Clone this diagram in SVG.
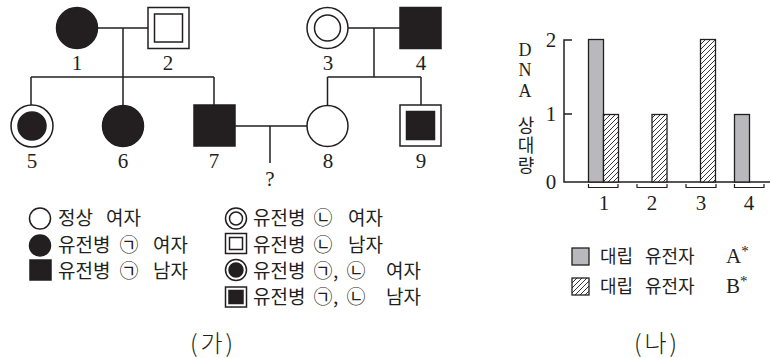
<svg xmlns="http://www.w3.org/2000/svg" width="771" height="358" viewBox="0 0 771 358">
<style>
.ln{stroke:#231f20;stroke-width:1.5;fill:none}
.op{stroke:#231f20;stroke-width:1.5;fill:#fff}
.fl{stroke:#231f20;stroke-width:1.5;fill:#231f20}
.dg{font-family:"Liberation Serif","DejaVu Serif",serif;font-size:21px;fill:#231f20;text-anchor:middle}
.kr{font-family:"Noto Sans CJK KR","Noto Sans",sans-serif;font-size:19px;fill:#231f20}
.sr{font-family:"Liberation Serif",serif}
.bar{stroke:#231f20;stroke-width:1.3}
</style>
<defs>
<pattern id="hatch" patternUnits="userSpaceOnUse" width="5" height="5">
<rect width="5" height="5" fill="#fff"/>
<path d="M-1,1 l2,-2 M0,5 l5,-5 M4,6 l2,-2" stroke="#231f20" stroke-width="0.9"/>
</pattern>
</defs>

<g id="connectors">
<path class="ln" d="M97.5,28 H148 M123,28 V105 M31,77 H214 M31,77 V105 M214,77 V105"/>
<path class="ln" d="M348,28 H400 M374,28 V77 M327.5,77 H421 M327.5,77 V105.5 M421,77 V105"/>
<path class="ln" d="M235,126 H307 M270,126 V163"/>
</g>

<g id="node1"><circle class="fl" cx="77" cy="28" r="20.5"/><text class="dg" x="77" y="70">1</text></g>
<g id="node2"><rect class="op" x="148" y="7.5" width="41" height="41"/><rect class="op" x="154.5" y="14" width="28" height="28"/><text class="dg" x="168" y="70">2</text></g>
<g id="node3"><circle class="op" cx="327.5" cy="28" r="20.5"/><circle class="op" cx="327.5" cy="28" r="13"/><text class="dg" x="328" y="70">3</text></g>
<g id="node4"><rect class="fl" x="400" y="7.5" width="41" height="41"/><text class="dg" x="421" y="70">4</text></g>
<g id="node5"><circle class="op" cx="32" cy="126" r="21"/><circle class="fl" cx="32" cy="126" r="14"/><text class="dg" x="32" y="168">5</text></g>
<g id="node6"><circle class="fl" cx="123" cy="126" r="20.5"/><text class="dg" x="123" y="168">6</text></g>
<g id="node7"><rect class="fl" x="194" y="105" width="41" height="41"/><text class="dg" x="214" y="168">7</text></g>
<g id="node8"><circle class="op" cx="327.5" cy="126" r="20.5"/><text class="dg" x="328" y="168">8</text></g>
<g id="node9"><rect class="op" x="400" y="105" width="41" height="41"/><rect class="fl" x="406.5" y="111.5" width="28" height="28"/><text class="dg" x="421" y="168">9</text></g>
<g id="child"><text class="dg" x="270" y="186">?</text></g>

<g id="legend-ga">
<circle class="op" cx="40" cy="218.5" r="10.5"/>
<text class="kr" y="225"><tspan x="58">정상</tspan><tspan x="106">여자</tspan></text>
<circle class="fl" cx="40" cy="245.5" r="10.5"/>
<text class="kr" y="251.5"><tspan x="58">유전병</tspan><tspan x="119.5">㉠</tspan><tspan x="153">여자</tspan></text>
<rect class="fl" x="30" y="260" width="21" height="20"/>
<text class="kr" y="277.5"><tspan x="58">유전병</tspan><tspan x="119.5">㉠</tspan><tspan x="153">남자</tspan></text>

<circle class="op" cx="236" cy="218.5" r="10.5"/><circle class="op" cx="236" cy="218.5" r="6.5"/>
<text class="kr" y="225"><tspan x="253">유전병</tspan><tspan x="313.5">㉡</tspan><tspan x="348">여자</tspan></text>
<rect class="op" x="225.5" y="233.5" width="21" height="20"/><rect class="op" x="229.5" y="237.5" width="13" height="12"/>
<text class="kr" y="251.5"><tspan x="253">유전병</tspan><tspan x="313.5">㉡</tspan><tspan x="348">남자</tspan></text>
<circle class="op" cx="236" cy="270" r="10.5"/><circle class="fl" cx="236" cy="270" r="7"/>
<text class="kr" y="277.5"><tspan x="253">유전병</tspan><tspan x="313.5">㉠</tspan><tspan x="333">,</tspan><tspan x="346.5">㉡</tspan><tspan x="386">여자</tspan></text>
<rect class="op" x="225.5" y="287" width="21" height="20"/><rect class="fl" x="229" y="290.5" width="14" height="13"/>
<text class="kr" y="303.5"><tspan x="253">유전병</tspan><tspan x="313.5">㉠</tspan><tspan x="333">,</tspan><tspan x="346.5">㉡</tspan><tspan x="386">남자</tspan></text>
<text class="kr" x="213" y="352" text-anchor="middle" style="font-size:24px;font-weight:300;letter-spacing:3px">(가)</text>
</g>

<g id="chart">
<path class="ln" d="M572,40 H564 V182 H770 M564,114 H572"/>
<text class="dg" x="551" y="47">2</text>
<text class="dg" x="551" y="121">1</text>
<text class="dg" x="551" y="189">0</text>
<text class="dg" style="font-size:18px" x="525" y="56">D</text>
<text class="dg" style="font-size:18px" x="525" y="76">N</text>
<text class="dg" style="font-size:18px" x="525" y="97">A</text>
<text class="kr" x="526" y="116" writing-mode="tb" style="font-size:18px;letter-spacing:2px">상대량</text>

<rect class="bar" x="588.5" y="39.5" width="15" height="142.5" fill="#b9b9bd"/>
<rect class="bar" x="603.5" y="114.5" width="15" height="67.5" fill="url(#hatch)"/>
<rect class="bar" x="652" y="114.5" width="15" height="67.5" fill="url(#hatch)"/>
<rect class="bar" x="700.5" y="39.5" width="15" height="142.5" fill="url(#hatch)"/>
<rect class="bar" x="734.5" y="114.5" width="15" height="67.5" fill="#b9b9bd"/>

<path class="ln" style="stroke-width:1.2" d="M588.5,184 V187.5 H618 V184 M637,184 V187.5 H667 V184 M686,184 V187.5 H716 V184 M734.5,184 V187.5 H764 V184"/>
<text class="dg" x="604" y="210">1</text>
<text class="dg" x="652" y="210">2</text>
<text class="dg" x="701" y="210">3</text>
<text class="dg" x="749" y="210">4</text>

<rect class="bar" x="572" y="248" width="17" height="17" fill="#b9b9bd"/>
<text class="kr" y="263" style="font-size:18px"><tspan x="600">대립</tspan><tspan x="645">유전자</tspan><tspan class="sr" style="font-size:21px" x="726">A</tspan><tspan class="sr" style="font-size:15px" dy="-7">*</tspan></text>
<rect class="bar" x="572" y="278" width="17" height="17" fill="url(#hatch)"/>
<text class="kr" y="293" style="font-size:18px"><tspan x="600">대립</tspan><tspan x="645">유전자</tspan><tspan class="sr" style="font-size:21px" x="726">B</tspan><tspan class="sr" style="font-size:15px" dy="-7">*</tspan></text>
<text class="kr" x="657" y="352" text-anchor="middle" style="font-size:24px;font-weight:300;letter-spacing:3px">(나)</text>
</g>
</svg>
